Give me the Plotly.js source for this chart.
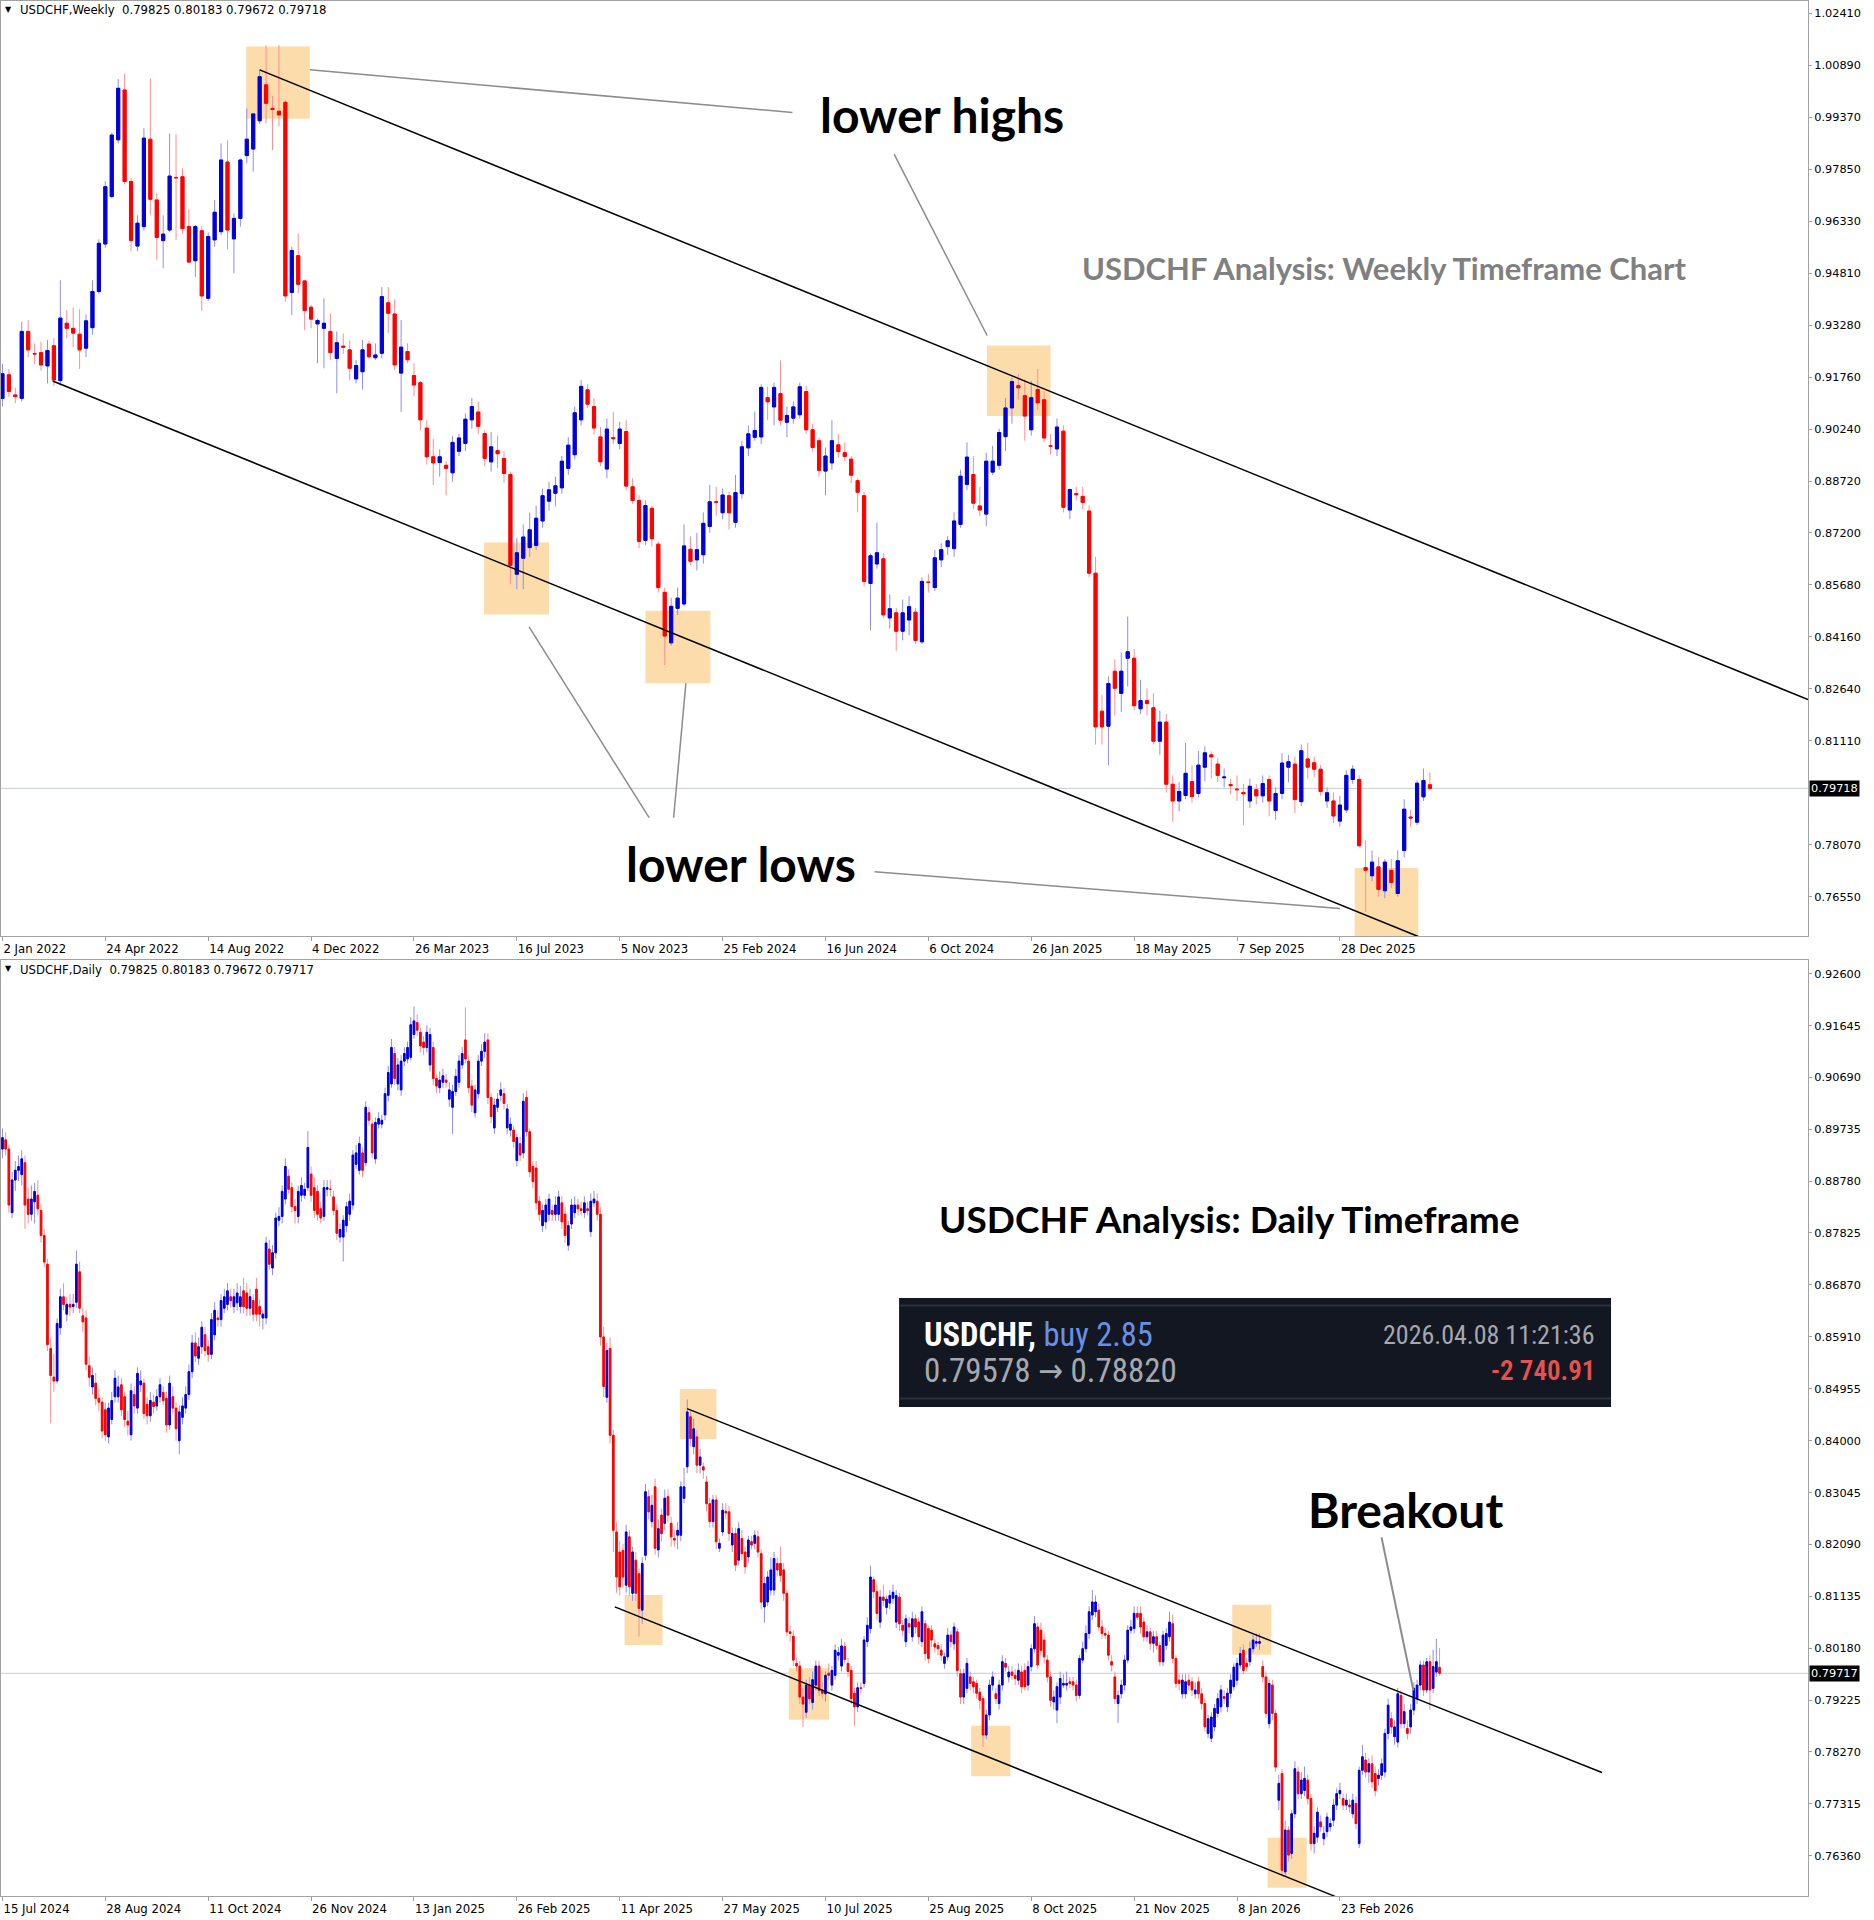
<!DOCTYPE html>
<html>
<head>
<meta charset="utf-8">
<script src="https://cdn.plot.ly/plotly-3.0.1.min.js"></script>
<style>html,body{margin:0;padding:0;background:#fff;}#chart{width:1874px;height:1920px;}</style>
</head>
<body>
<div id="chart"></div>
<script>
// ---------------- WEEKLY DATA (2 Jan 2022 ... 5 Apr 2026) ----------------
const weeklyOpen = [
.9114,.9183,.9124,.9114,.9310,.9245,.9248,.9209,.9268,.9166,
.9334,.9319,.9302,.9261,.9321,.9427,.9566,.9705,.9871,1.0017,
.9749,.9560,.9617,.9873,.9695,.9576,.9607,.9761,.9763,.9617,
.9517,.9605,.9407,.9578,.9602,.9806,.9581,.9641,.9825,.9844,
.9927,1.0032,.9963,.9955,.9981,.9424,.9532,.9458,.9381,.9332,
.9319,.9310,.9231,.9267,.9256,.9171,.9192,.9273,.9233,.9246,
.9394,.9361,.9188,.9251,.9181,.9160,.9027,.8943,.8926,.8918,
.8896,.8959,.8982,.9051,.9074,.9011,.8928,.8961,.8938,.8891,
.8599,.8646,.8677,.8683,.8755,.8813,.8836,.8852,.8909,.8949,
.9051,.9139,.9090,.9001,.8907,.8999,.8982,.9017,.8855,.8815,
.8698,.8792,.8687,.8546,.8398,.8499,.8512,.8672,.8641,.8656,
.8739,.8811,.8779,.8829,.8751,.8835,.8969,.9000,.9001,.9116,
.9089,.9128,.9044,.9056,.9066,.9134,.9022,.8990,.8901,.8925,
.8978,.8955,.8936,.8873,.8829,.8572,.8629,.8644,.8471,.8486,
.8432,.8465,.8488,.8401,.8576,.8560,.8641,.8680,.8674,.8745,
.8862,.8891,.8799,.8775,.8898,.8918,.9002,.9086,.9151,.9122,
.9022,.9140,.9110,.8975,.8966,.9018,.8787,.8835,.8827,.8784,
.8602,.8198,.8154,.8315,.8250,.8353,.8353,.8205,.8229,.8208,
.8110,.8166,.7984,.7935,.7951,.7992,.7957,.8034,.8070,.8043,
.8003,.7983,.7970,.7960,.7935,.7968,.7950,.7998,.7907,.7957,
.8034,.8043,.7933,.8058,.8047,.8028,.7935,.7935,.7876,.7909,
.7998,.7998,.7740,.7716,.7742,.7672,.7732,.7664,.7790,.7888,
.7873,.7947,.79825];
const weeklyHigh = [
.9215,.9200,.9145,.9338,.9343,.9275,.9280,.9285,.9290,.9460,
.9372,.9380,.9375,.9360,.9460,.9580,.9750,.9892,1.0049,1.0064,
.9760,.9650,.9905,1.0051,.9715,.9650,.9890,.9887,.9787,.9668,
.9622,.9619,.9600,.9695,.9861,.9870,.9656,.9817,.9963,.9948,
1.0076,1.0148,1.0000,1.0148,.9988,.9558,.9597,.9458,.9388,.9348,
.9407,.9363,.9310,.9304,.9283,.9226,.9285,.9283,.9275,.9440,
.9440,.9404,.9343,.9275,.9217,.9165,.9050,.8995,.8965,.8930,
.9003,.9010,.9070,.9115,.9105,.9020,.9015,.9005,.8960,.8900,
.8705,.8745,.8780,.8800,.8850,.8870,.8885,.8945,.9000,.9090,
.9168,.9155,.9115,.9030,.9055,.9075,.9045,.9050,.8880,.8830,
.8815,.8800,.8695,.8560,.8530,.8560,.8745,.8710,.8720,.8780,
.8860,.8855,.8850,.8840,.8890,.8990,.9035,.9075,.9155,.9148,
.9160,.9225,.9090,.9105,.9160,.9150,.9040,.9000,.8970,.9050,
.9010,.8985,.8945,.8880,.8840,.8660,.8750,.8660,.8540,.8500,
.8525,.8535,.8500,.8590,.8600,.8670,.8690,.8710,.8780,.8905,
.8985,.8945,.8855,.8955,.8975,.9025,.9115,.9175,.9185,.9170,
.9165,.9200,.9135,.9010,.9055,.9035,.8850,.8855,.8855,.8800,
.8650,.8245,.8300,.8350,.8370,.8475,.8380,.8290,.8265,.8250,
.8200,.8190,.8010,.7990,.8105,.8040,.8082,.8095,.8080,.8060,
.8030,.8000,.8010,.7985,.8000,.7985,.8010,.8010,.7975,.8075,
.8070,.8065,.8100,.8105,.8065,.8040,.7975,.7960,.7950,.8025,
.8040,.8010,.7820,.7790,.7770,.7765,.7765,.7790,.7940,.7910,
.7995,.8030,.80183];
const weeklyLow = [
.9090,.9118,.9100,.9105,.9235,.9215,.9195,.9158,.9150,.9152,
.9290,.9265,.9200,.9235,.9300,.9420,.9555,.9700,.9860,.9740,
.9545,.9545,.9605,.9650,.9520,.9495,.9600,.9578,.9597,.9510,
.9470,.9370,.9400,.9558,.9592,.9550,.9480,.9617,.9802,.9778,
.9917,.9919,.9841,.9911,.9397,.9358,.9422,.9314,.9319,.9217,
.9202,.9226,.9129,.9244,.9168,.9158,.9140,.9231,.9226,.9231,
.9305,.9197,.9074,.9217,.9120,.9020,.8920,.8860,.8885,.8830,
.8870,.8945,.8960,.9025,.9010,.8915,.8900,.8910,.8867,.8570,
.8555,.8555,.8650,.8670,.8735,.8785,.8798,.8835,.8890,.8935,
.9035,.9085,.9008,.8915,.8880,.8980,.8965,.8845,.8805,.8675,
.8685,.8680,.8545,.8333,.8390,.8480,.8505,.8625,.8610,.8630,
.8720,.8770,.8760,.8730,.8735,.8820,.8945,.8990,.8980,.9050,
.9035,.9035,.9000,.9040,.9055,.9010,.8958,.8885,.8830,.8905,
.8940,.8930,.8865,.8780,.8563,.8435,.8615,.8470,.8440,.8375,
.8405,.8420,.8395,.8395,.8545,.8550,.8620,.8655,.8650,.8735,
.8845,.8790,.8770,.8740,.8890,.8905,.8960,.9040,.9110,.8990,
.9005,.9080,.8985,.8950,.8945,.8780,.8760,.8815,.8790,.8590,
.8100,.8100,.8040,.8185,.8195,.8270,.8200,.8190,.8185,.8100,
.8070,.7960,.7875,.7905,.7940,.7930,.7945,.7993,.8000,.7990,
.7975,.7955,.7935,.7865,.7915,.7925,.7930,.7890,.7880,.7940,
.7990,.7900,.7920,.8000,.8005,.7950,.7915,.7870,.7860,.7900,
.7985,.7800,.7610,.7700,.7655,.7650,.7680,.7655,.7770,.7860,
.7865,.7935,.79672];
const weeklyClose = [
.9186,.9134,.9119,.9310,.9256,.9244,.9212,.9254,.9168,.9349,
.9319,.9305,.9256,.9341,.9427,.9568,.9734,.9885,1.0022,.9749,
.9576,.9627,.9876,.9697,.9585,.9595,.9765,.9760,.9611,.9513,
.9617,.9414,.9588,.9659,.9812,.9607,.9641,.9812,.9873,.9947,
1.0056,.9978,.9960,.9944,.9414,.9547,.9448,.9371,.9346,.9342,
.9334,.9248,.9277,.9264,.9202,.9210,.9256,.9236,.9241,.9412,
.9363,.9212,.9264,.9227,.9153,.9051,.8943,.8925,.8943,.8909,
.8985,.8998,.9053,.9090,.9032,.8938,.8972,.8952,.8894,.8625,
.8662,.8708,.8729,.8763,.8829,.8846,.8858,.8930,.8977,.9072,
.9149,.9097,.9027,.8928,.9024,.8996,.9024,.8857,.8815,.8695,
.8800,.8703,.8560,.8418,.8505,.8529,.8682,.8637,.8671,.8748,
.8811,.8810,.8831,.8779,.8838,.8972,.9010,.9020,.9146,.9104,
.9146,.9050,.9064,.9089,.9148,.9022,.8970,.8903,.8945,.8990,
.8958,.8944,.8889,.8839,.8578,.8653,.8662,.8480,.8498,.8432,
.8486,.8504,.8405,.8578,.8575,.8647,.8671,.8697,.8755,.8886,
.8942,.8807,.8787,.8930,.8930,.9014,.9086,.9163,.9145,.9062,
.9116,.9101,.8998,.8974,.9030,.8795,.8847,.8832,.8809,.8602,
.8152,.8152,.8279,.8265,.8315,.8372,.8214,.8229,.8220,.8110,
.8166,.7984,.7935,.7963,.8016,.7948,.8040,.8076,.8064,.8010,
.8005,.7980,.7968,.7956,.7978,.7950,.7986,.7935,.7957,.8046,
.8050,.7939,.8082,.8034,.8028,.7963,.7959,.7891,.7923,.8010,
.8028,.7804,.7732,.7756,.7676,.7756,.7696,.7760,.7911,.7885,
.7987,.7995,.79718];
const weeklyTickIndex = [0,16,32,48,64,80,96,112,128,144,160,176,192,208];
const weeklyTickLabels = ['2 Jan 2022','24 Apr 2022','14 Aug 2022','4 Dec 2022','26 Mar 2023','16 Jul 2023','5 Nov 2023','25 Feb 2024','16 Jun 2024','6 Oct 2024','26 Jan 2025','18 May 2025','7 Sep 2025','28 Dec 2025'];
const weeklyPriceTicks = [1.0241,1.0089,0.9937,0.9785,0.9633,0.9481,0.9328,0.9176,0.9024,0.8872,0.8720,0.8568,0.8416,0.8264,0.8111,0.7807,0.7655];
const weeklyLast = 0.79718;

// ---------------- DAILY DATA (15 Jul 2024 ... 8 Apr 2026) ----------------
const dailyOpen = [
.8937,.8954,.8937,.8820,.8880,.8898,.8890,.8912,.8845,.8817,
.8840,.8852,.8824,.8778,.8725,.8570,.8517,.8510,.8608,.8665,
.8633,.8651,.8647,.8655,.8711,.8630,.8626,.8538,.8499,.8506,
.8478,.8471,.8457,.8407,.8439,.8481,.8481,.8503,.8481,.8436,
.8411,.8485,.8460,.8503,.8506,.8467,.8446,.8471,.8464,.8481,
.8489,.8478,.8429,.8481,.8460,.8400,.8443,.8460,.8485,.8527,
.8580,.8552,.8573,.8595,.8573,.8559,.8595,.8626,.8623,.8644,
.8651,.8665,.8647,.8654,.8647,.8676,.8672,.8644,.8658,.8679,
.8647,.8626,.8626,.8753,.8718,.8746,.8806,.8813,.8845,.8887,
.8866,.8831,.8813,.8852,.8852,.8866,.8891,.8866,.8859,.8827,
.8813,.8863,.8863,.8849,.8824,.8775,.8775,.8796,.8817,.8834,
.8909,.8898,.8930,.8912,.9004,.8983,.8919,.8983,.8983,.9000,
.9036,.9057,.9113,.9057,.9046,.9099,.9103,.9106,.9148,.9170,
.9152,.9134,.9124,.9092,.9124,.9067,.9050,.9060,.9064,.9029,
.9014,.9043,.9060,.9092,.9138,.9099,.9053,.9004,.9039,.9099,
.9117,.9138,.9032,.8976,.9014,.9036,.9039,.8976,.8972,.8972,
.8916,.8947,.8930,.9032,.8969,.8905,.8902,.8841,.8796,.8803,
.8817,.8824,.8817,.8817,.8838,.8817,.8760,.8799,.8820,.8834,
.8827,.8820,.8827,.8785,.8838,.8841,.8817,.8591,.8480,.8570,
.8410,.8232,.8195,.8198,.8134,.8223,.8119,.8180,.8155,.8088,
.8189,.8297,.8251,.8315,.8199,.8263,.8248,.8297,.8248,.8220,
.8226,.8226,.8294,.8352,.8444,.8389,.8407,.8355,.8352,.8324,
.8284,.8251,.8291,.8202,.8232,.8270,.8269,.8208,.8229,.8180,
.8220,.8195,.8186,.8214,.8211,.8223,.8192,.8094,.8103,.8125,
.8125,.8174,.8174,.8162,.8119,.8048,.8040,.7990,.7985,.7928,
.7900,.7950,.7918,.7950,.7985,.7941,.7934,.7972,.7950,.7968,
.8005,.7985,.8021,.7990,.7977,.7935,.7910,.7945,.7953,.8030,
.8054,.8144,.8122,.8066,.8112,.8093,.8101,.8110,.8066,.8112,
.8060,.8030,.8063,.8039,.8072,.8066,.8030,.8063,.8054,.8051,
.8026,.8023,.8014,.7990,.8002,.8042,.8026,.8048,.7971,.7928,
.7944,.7965,.7956,.7953,.7937,.7925,.7858,.7895,.7950,.7934,
.7916,.7950,.7990,.7965,.7974,.7968,.7959,.7974,.7977,.7950,
.7984,.8017,.8057,.8051,.8033,.7996,.7965,.7919,.7904,.7928,
.7950,.7950,.7956,.7956,.7950,.7931,.7996,.8017,.8045,.8079,
.8085,.8088,.8057,.8045,.8042,.7993,.7965,.7916,.7934,.7950,
.7996,.8051,.8054,.8082,.8082,.8066,.8039,.8048,.8027,.8039,
.8023,.7993,.8023,.8039,.8063,.7999,.7959,.7934,.7934,.7959,
.7956,.7934,.7956,.7934,.7916,.7861,.7852,.7873,.7898,.7910,
.7929,.7910,.7935,.7947,.7959,.7987,.8014,.7990,.7993,.8017,
.8027,.8027,.7984,.7965,.7879,.7950,.7898,.7738,.7787,.7606,
.7683,.7640,.7713,.7790,.7750,.7756,.7775,.7741,.7658,.7670,
.7698,.7667,.7680,.7689,.7701,.7729,.7750,.7741,.7729,.7729,
.7713,.7732,.7658,.7793,.7812,.7790,.7805,.7787,.7778,.7784,
.7790,.7861,.7888,.7855,.7845,.7931,.7879,.7870,.7873,.7904,
.7925,.7950,.7987,.7941,.7993,.7944,.7974,.79825];
const dailyHigh = [
.8975,.8968,.8945,.8895,.8915,.8925,.8935,.8925,.8865,.8870,
.8875,.8880,.8835,.8790,.8735,.8590,.8560,.8625,.8680,.8690,
.8665,.8670,.8670,.8750,.8730,.8645,.8640,.8555,.8535,.8525,
.8495,.8480,.8470,.8470,.8490,.8530,.8520,.8515,.8490,.8455,
.8505,.8500,.8535,.8530,.8515,.8480,.8490,.8485,.8495,.8515,
.8500,.8490,.8520,.8500,.8470,.8465,.8480,.8500,.8540,.8595,
.8600,.8590,.8620,.8610,.8585,.8635,.8655,.8640,.8670,.8680,
.8690,.8680,.8680,.8690,.8685,.8700,.8690,.8680,.8670,.8700,
.8660,.8640,.8775,.8770,.8760,.8820,.8830,.8870,.8920,.8900,
.8875,.8845,.8870,.8885,.8875,.8970,.8905,.8885,.8870,.8840,
.8880,.8880,.8880,.8860,.8835,.8800,.8815,.8840,.8855,.8935,
.8945,.8960,.8940,.9025,.9015,.8990,.8995,.9005,.9000,.9050,
.9090,.9140,.9125,.9105,.9110,.9125,.9135,.9180,.9200,.9185,
.9160,.9145,.9165,.9160,.9135,.9075,.9080,.9085,.9075,.9060,
.9055,.9085,.9110,.9125,.9198,.9110,.9065,.9055,.9110,.9130,
.9150,.9150,.9040,.9030,.9040,.9060,.9050,.9020,.8995,.8980,
.8965,.8960,.9040,.9045,.8975,.8915,.8915,.8850,.8835,.8845,
.8855,.8835,.8850,.8860,.8850,.8830,.8805,.8845,.8850,.8845,
.8840,.8850,.8840,.8855,.8860,.8855,.8830,.8610,.8580,.8590,
.8420,.8250,.8215,.8210,.8245,.8235,.8205,.8195,.8165,.8185,
.8320,.8310,.8300,.8330,.8255,.8275,.8310,.8310,.8260,.8235,
.8250,.8325,.8350,.8476,.8455,.8440,.8420,.8385,.8360,.8335,
.8295,.8300,.8300,.8220,.8285,.8285,.8280,.8240,.8240,.8250,
.8235,.8205,.8225,.8225,.8235,.8235,.8200,.8150,.8160,.8185,
.8195,.8185,.8205,.8175,.8125,.8060,.8050,.8000,.7995,.7945,
.7960,.7965,.7975,.7995,.7995,.7955,.7975,.7990,.7985,.8025,
.8020,.8035,.8030,.8000,.7985,.7945,.7955,.7955,.8040,.8075,
.8170,.8150,.8135,.8125,.8135,.8115,.8125,.8135,.8125,.8120,
.8070,.8080,.8075,.8085,.8080,.8075,.8095,.8070,.8060,.8060,
.8035,.8030,.8025,.8010,.8055,.8050,.8065,.8055,.7980,.7980,
.8000,.7975,.7965,.7960,.7945,.7930,.7905,.7960,.7975,.7945,
.7960,.8005,.8000,.7985,.7985,.7980,.7990,.7985,.7990,.7995,
.8025,.8077,.8065,.8065,.8045,.8005,.7975,.7940,.7955,.7975,
.7970,.7975,.7965,.7965,.7960,.8005,.8030,.8060,.8095,.8125,
.8115,.8100,.8070,.8055,.8050,.8005,.7975,.7940,.7960,.8005,
.8060,.8070,.8095,.8095,.8095,.8075,.8060,.8055,.8050,.8050,
.8030,.8050,.8055,.8085,.8080,.8005,.7970,.7970,.7970,.7970,
.7965,.7955,.7965,.7945,.7925,.7895,.7900,.7915,.7935,.7950,
.7940,.7945,.7970,.7990,.8000,.8020,.8025,.8000,.8030,.8042,
.8045,.8045,.7995,.7975,.7960,.7960,.7905,.7785,.7795,.7700,
.7690,.7720,.7810,.7800,.7790,.7800,.7785,.7750,.7690,.7725,
.7710,.7690,.7715,.7705,.7740,.7760,.7770,.7750,.7750,.7740,
.7750,.7745,.7800,.7840,.7825,.7815,.7820,.7800,.7795,.7815,
.7870,.7925,.7900,.7885,.7945,.7940,.7915,.7885,.7915,.7955,
.7960,.7995,.7995,.8000,.8005,.8015,.8035,.80183];
const dailyLow = [
.8920,.8925,.8820,.8810,.8860,.8878,.8870,.8790,.8800,.8805,
.8800,.8815,.8765,.8720,.8565,.8432,.8490,.8505,.8595,.8640,
.8620,.8630,.8635,.8645,.8635,.8600,.8530,.8500,.8485,.8465,
.8455,.8405,.8400,.8395,.8430,.8470,.8470,.8445,.8425,.8410,
.8400,.8450,.8450,.8490,.8440,.8430,.8435,.8450,.8455,.8470,
.8465,.8415,.8420,.8450,.8400,.8375,.8430,.8450,.8475,.8515,
.8545,.8540,.8560,.8555,.8545,.8550,.8585,.8610,.8610,.8635,
.8640,.8645,.8635,.8640,.8635,.8635,.8630,.8630,.8620,.8620,
.8610,.8605,.8615,.8715,.8705,.8735,.8795,.8800,.8835,.8855,
.8820,.8800,.8800,.8840,.8845,.8860,.8840,.8810,.8805,.8800,
.8805,.8850,.8850,.8815,.8770,.8765,.8730,.8785,.8805,.8825,
.8900,.8890,.8885,.8905,.8980,.8920,.8910,.8975,.8975,.8990,
.9025,.9050,.9055,.9045,.9035,.9090,.9095,.9100,.9140,.9145,
.9115,.9110,.9115,.9080,.9055,.9040,.9040,.9050,.9050,.9015,
.8965,.9035,.9050,.9085,.9095,.9040,.9005,.8995,.9030,.9090,
.9105,.9020,.8985,.8965,.9005,.9025,.9010,.8965,.8960,.8940,
.8905,.8915,.8920,.8960,.8885,.8865,.8825,.8805,.8785,.8790,
.8805,.8805,.8805,.8805,.8790,.8765,.8750,.8790,.8810,.8815,
.8815,.8810,.8815,.8775,.8830,.8805,.8575,.8480,.8470,.8395,
.8195,.8120,.8115,.8130,.8120,.8115,.8105,.8105,.8039,.8063,
.8180,.8255,.8240,.8190,.8185,.8215,.8235,.8250,.8205,.8205,
.8200,.8215,.8285,.8340,.8390,.8375,.8340,.8340,.8330,.8270,
.8240,.8240,.8200,.8195,.8225,.8255,.8215,.8195,.8160,.8170,
.8180,.8155,.8175,.8200,.8200,.8185,.8090,.8065,.8095,.8115,
.8115,.8150,.8140,.8105,.8040,.8030,.7985,.7975,.7915,.7873,
.7890,.7915,.7905,.7940,.7930,.7925,.7920,.7960,.7940,.7960,
.7995,.7975,.7990,.7965,.7915,.7875,.7900,.7935,.7945,.8020,
.8045,.8110,.8070,.8055,.8095,.8080,.8090,.8100,.8055,.8050,
.8040,.8020,.8045,.8030,.8045,.8025,.8020,.7995,.7990,.8020,
.8010,.8005,.7995,.7980,.7995,.8020,.8015,.7965,.7915,.7915,
.7935,.7940,.7935,.7925,.7905,.7836,.7850,.7885,.7940,.7915,
.7905,.7940,.7975,.7955,.7960,.7950,.7950,.7935,.7940,.7940,
.7975,.8010,.7980,.8005,.7990,.7955,.7910,.7905,.7880,.7915,
.7945,.7940,.7945,.7940,.7920,.7925,.7990,.8010,.8035,.8070,
.8075,.8050,.8035,.8035,.7995,.7975,.7915,.7880,.7925,.7940,
.7990,.8045,.8045,.8070,.8045,.8030,.8030,.8015,.8010,.8015,
.7985,.7985,.8015,.8030,.7990,.7945,.7940,.7925,.7925,.7940,
.7930,.7925,.7925,.7905,.7865,.7852,.7845,.7865,.7890,.7900,
.7915,.7900,.7925,.7940,.7950,.7980,.7970,.7975,.7985,.8010,
.8020,.8015,.7955,.7890,.7870,.7885,.7790,.7720,.7600,.7598,
.7625,.7630,.7705,.7740,.7740,.7745,.7730,.7645,.7640,.7660,
.7680,.7655,.7670,.7680,.7690,.7720,.7740,.7720,.7720,.7715,
.7705,.7685,.7650,.7785,.7780,.7770,.7760,.7745,.7765,.7775,
.7780,.7850,.7860,.7840,.7835,.7870,.7870,.7850,.7860,.7895,
.7915,.7940,.7930,.7935,.7904,.7935,.7965,.79672];
const dailyClose = [
.8958,.8937,.8834,.8880,.8898,.8905,.8919,.8834,.8817,.8845,
.8859,.8827,.8778,.8729,.8577,.8520,.8510,.8616,.8665,.8651,
.8651,.8646,.8651,.8725,.8644,.8619,.8541,.8517,.8520,.8478,
.8471,.8418,.8411,.8460,.8474,.8515,.8499,.8457,.8439,.8429,
.8492,.8464,.8524,.8510,.8450,.8446,.8474,.8463,.8481,.8503,
.8474,.8429,.8506,.8460,.8422,.8453,.8464,.8485,.8527,.8580,
.8556,.8573,.8609,.8566,.8559,.8623,.8640,.8623,.8658,.8665,
.8676,.8658,.8665,.8672,.8665,.8647,.8644,.8665,.8633,.8633,
.8633,.8633,.8764,.8725,.8746,.8810,.8813,.8859,.8905,.8863,
.8831,.8824,.8859,.8870,.8863,.8940,.8852,.8824,.8817,.8810,
.8866,.8866,.8863,.8824,.8782,.8789,.8806,.8831,.8841,.8926,
.8930,.8947,.8898,.9014,.8990,.8930,.8986,.8993,.8990,.9039,
.9078,.9124,.9067,.9092,.9099,.9113,.9124,.9166,.9173,.9156,
.9127,.9124,.9152,.9148,.9067,.9053,.9064,.9072,.9060,.9046,
.9043,.9071,.9099,.9113,.9103,.9050,.9018,.9046,.9099,.9117,
.9134,.9032,.8997,.9018,.9029,.9046,.9021,.9011,.8983,.8951,
.8958,.8926,.9025,.8969,.8895,.8877,.8838,.8817,.8824,.8834,
.8845,.8817,.8834,.8849,.8803,.8778,.8796,.8834,.8834,.8827,
.8824,.8838,.8824,.8841,.8845,.8817,.8591,.8500,.8566,.8410,
.8235,.8149,.8131,.8149,.8232,.8131,.8195,.8119,.8091,.8174,
.8306,.8269,.8281,.8202,.8238,.8229,.8294,.8263,.8223,.8217,
.8235,.8315,.8315,.8453,.8404,.8422,.8355,.8370,.8346,.8284,
.8251,.8291,.8214,.8211,.8272,.8267,.8229,.8229,.8171,.8238,
.8192,.8168,.8217,.8208,.8226,.8195,.8103,.8137,.8149,.8162,
.8183,.8162,.8152,.8119,.8048,.8045,.7996,.7985,.7928,.7915,
.7950,.7925,.7960,.7985,.7940,.7935,.7968,.7968,.7977,.8014,
.8010,.8022,.7997,.7975,.7925,.7910,.7945,.7944,.8033,.8060,
.8149,.8122,.8082,.8112,.8106,.8108,.8115,.8121,.8115,.8063,
.8051,.8072,.8057,.8072,.8057,.8039,.8085,.8008,.7999,.8033,
.8020,.8017,.8005,.8002,.8042,.8030,.8057,.7977,.7928,.7971,
.7990,.7953,.7947,.7935,.7922,.7858,.7895,.7950,.7965,.7925,
.7950,.7993,.7983,.7974,.7968,.7962,.7977,.7947,.7947,.7984,
.8017,.8063,.7987,.8014,.8002,.7965,.7922,.7928,.7947,.7962,
.7953,.7953,.7953,.7950,.7931,.7999,.8017,.8045,.8085,.8103,
.8103,.8057,.8045,.8042,.8005,.7987,.7925,.7931,.7950,.7996,
.8051,.8057,.8082,.8075,.8057,.8039,.8048,.8027,.8039,.8023,
.7993,.8042,.8045,.8066,.7999,.7953,.7953,.7959,.7956,.7950,
.7941,.7941,.7934,.7916,.7873,.7888,.7891,.7907,.7925,.7941,
.7925,.7935,.7959,.7983,.7990,.8008,.7977,.7984,.8017,.8033,
.8030,.8030,.7965,.7898,.7953,.7898,.7799,.7769,.7609,.7683,
.7637,.7713,.7796,.7750,.7775,.7778,.7741,.7658,.7677,.7716,
.7689,.7677,.7707,.7695,.7729,.7750,.7756,.7729,.7738,.7726,
.7738,.7695,.7793,.7818,.7790,.7805,.7772,.7756,.7784,.7805,
.7861,.7913,.7873,.7873,.7934,.7879,.7901,.7861,.7904,.7944,
.7950,.7987,.7941,.7993,.7941,.7984,.7993,.79717];
const dailyTickIndex = [0,32,64,96,128,160,192,224,256,288,320,352,384,416];
const dailyTickLabels = ['15 Jul 2024','28 Aug 2024','11 Oct 2024','26 Nov 2024','13 Jan 2025','26 Feb 2025','11 Apr 2025','27 May 2025','10 Jul 2025','25 Aug 2025','8 Oct 2025','21 Nov 2025','8 Jan 2026','23 Feb 2026'];
const dailyPriceTicks = [0.92600,0.91645,0.90690,0.89735,0.88780,0.87825,0.86870,0.85910,0.84955,0.84000,0.83045,0.82090,0.81135,0.80180,0.79225,0.78270,0.77315,0.76360];
const dailyLast = 0.79717;

// ---------------- BUILD ----------------
const idx = a => a.map((_, k) => k);
const bodyTop = (o, c) => o.map((v, k) => Math.max(v, c[k]));
const bodyBot = (o, c) => o.map((v, k) => Math.min(v, c[k]));

function candles(o, h, l, c, xa, ya) {
  const x = idx(o);
  const common = {type: 'candlestick', x: x, xaxis: xa, yaxis: ya, whiskerwidth: 0, hoverinfo: 'skip', showlegend: false};
  const wick = Object.assign({}, common, {open: o, high: h, low: l, close: c,
    increasing: {line: {color: '#8d8df4', width: 1}, fillcolor: '#8d8df4'},
    decreasing: {line: {color: '#ff8e8e', width: 1}, fillcolor: '#ff8e8e'}});
  const body = Object.assign({}, common, {open: o, high: bodyTop(o, c), low: bodyBot(o, c), close: c,
    increasing: {line: {color: '#0000d8', width: 1}, fillcolor: '#0000d8'},
    decreasing: {line: {color: '#ff0000', width: 1}, fillcolor: '#ff0000'}});
  return [wick, body];
}

const traces = [].concat(
  candles(weeklyOpen, weeklyHigh, weeklyLow, weeklyClose, 'x', 'y'),
  candles(dailyOpen, dailyHigh, dailyLow, dailyClose, 'x2', 'y2')
);

const FRAME = '#a2a2a2';
const xFont = {family: '"DejaVu Sans Condensed", "DejaVu Sans", sans-serif', size: 13, color: '#000'};
const yFont = {family: '"DejaVu Sans", Verdana, sans-serif', size: 11.3, color: '#000'};
const fmt5 = v => v.toFixed(5);

function xAxis(anchor, range, tv, tt) {
  return {anchor: anchor, domain: [0, 1], range: range, showgrid: false, zeroline: false,
    showline: true, mirror: true, linecolor: FRAME, linewidth: 1,
    ticks: 'outside', ticklen: 4, tickcolor: FRAME, tickwidth: 1,
    tickvals: tv, ticktext: tt, tickfont: xFont, ticklabelposition: 'outside right',
    rangeslider: {visible: false}, fixedrange: true, automargin: false};
}
function yAxis(anchor, domain, range, tv) {
  return {anchor: anchor, domain: domain, range: range, side: 'right', showgrid: false, zeroline: false,
    showline: true, mirror: true, linecolor: FRAME, linewidth: 1,
    ticks: 'outside', ticklen: 3, tickcolor: FRAME, tickwidth: 1,
    tickvals: tv, ticktext: tv.map(fmt5), tickfont: yFont, fixedrange: true, automargin: false};
}

const BOX = '#fddcab';
function rect(xr, yr, x0, x1, y0, y1) {
  return {type: 'rect', xref: xr, yref: yr, x0: x0, x1: x1, y0: y0, y1: y1, fillcolor: BOX, line: {width: 0}, layer: 'below'};
}
function seg(xr, yr, x0, y0, x1, y1, color, w) {
  return {type: 'line', xref: xr, yref: yr, x0: x0, y0: y0, x1: x1, y1: y1, line: {color: color, width: w}, layer: 'above'};
}

const shapes = [
  // weekly highlight boxes
  rect('x', 'y', 37.9, 47.8, 0.9933, 1.0144),
  rect('x', 'y', 153.1, 163.0, 0.9062, 0.9269),
  rect('x', 'y', 74.9, 85.0, 0.8481, 0.8692),
  rect('x', 'y', 100.0, 110.1, 0.8280, 0.8492),
  rect('x', 'y', 210.3, 220.2, 0.7500, 0.7739),
  // daily highlight boxes
  rect('x2', 'y2', 210.7, 222.1, 0.8403, 0.8495),
  rect('x2', 'y2', 193.5, 205.3, 0.8024, 0.8116),
  rect('x2', 'y2', 244.6, 257.1, 0.7886, 0.7981),
  rect('x2', 'y2', 301.3, 313.5, 0.7782, 0.7875),
  rect('x2', 'y2', 382.5, 394.7, 0.8006, 0.8098),
  rect('x2', 'y2', 393.5, 405.7, 0.7577, 0.7669),
  // last price lines
  {type: 'line', xref: 'x domain', yref: 'y', x0: 0, x1: 1, y0: weeklyLast, y1: weeklyLast, line: {color: '#c7cdd6', width: 1}, layer: 'below'},
  {type: 'line', xref: 'x2 domain', yref: 'y2', x0: 0, x1: 1, y0: dailyLast, y1: dailyLast, line: {color: '#c7cdd6', width: 1}, layer: 'below'},
  // weekly channel
  seg('x', 'y', 40.0, 1.0076, 280.8, 0.8232, '#000', 1.5),
  seg('x', 'y', 7.81, 0.9165, 220.19, 0.7538, '#000', 1.5),
  // daily channel
  seg('x2', 'y2', 212.95, 0.8459, 497.5, 0.7789, '#000', 1.5),
  seg('x2', 'y2', 190.48, 0.8094, 414.48, 0.7561, '#000', 1.5),
  // pointer lines
  seg('x', 'y', 47.81, 1.0076, 122.86, 0.9951, '#8c8c8c', 1.5),
  seg('x', 'y', 138.67, 0.9829, 153.14, 0.9298, '#8c8c8c', 1.5),
  seg('x', 'y', 81.9, 0.8445, 100.57, 0.7886, '#8c8c8c', 1.5),
  seg('x', 'y', 106.29, 0.8280, 104.38, 0.7886, '#8c8c8c', 1.5),
  seg('x', 'y', 135.62, 0.7728, 208.0, 0.7620, '#8c8c8c', 1.5),
  seg('x2', 'y2', 428.95, 0.8222, 438.86, 0.7940, '#8c8c8c', 2),
  // trade info panel
  {type: 'rect', xref: 'paper', yref: 'paper', x0: 0.4970, x1: 0.8910, y0: 0.25791, y1: 0.31540, fillcolor: '#131722', line: {width: 0}, layer: 'above'},
  {type: 'line', xref: 'paper', yref: 'paper', x0: 0.4970, x1: 0.8910, y0: 0.31144, y1: 0.31144, line: {color: '#2c303b', width: 2}, layer: 'above'},
  {type: 'line', xref: 'paper', yref: 'paper', x0: 0.4970, x1: 0.8910, y0: 0.26239, y1: 0.26239, line: {color: '#2c303b', width: 2}, layer: 'above'}
];

const bigFont = (size, color) => ({family: 'Lato, "Open Sans", sans-serif', size: size, color: color, weight: 700});
const narrow = '"Roboto Condensed", "Liberation Sans Narrow", "Arial Narrow", "DejaVu Sans Condensed", sans-serif';
function note(x, y, text, font, xanchor) {
  return {xref: 'paper', yref: 'paper', x: x, y: y, text: text, showarrow: false, font: font,
    xanchor: xanchor || 'center', yanchor: 'middle'};
}
function priceTag(yref, v) {
  return {xref: 'paper', yref: yref, x: 1, y: v, xanchor: 'left', yanchor: 'middle', xshift: 1,
    text: fmt5(v), showarrow: false, bgcolor: '#000000', borderpad: 1,
    font: {family: '"DejaVu Sans", Verdana, sans-serif', size: 11.3, color: '#ffffff'}};
}

const annotations = [
  note(0.0040, 0.99480, '▼', {family: 'DejaVu Sans', size: 8, color: '#000'}),
  note(0.0094, 0.99473, 'USDCHF,Weekly&nbsp; 0.79825 0.80183 0.79672 0.79718', xFont, 'left'),
  note(0.0040, 0.48905, '▼', {family: 'DejaVu Sans', size: 8, color: '#000'}),
  note(0.0094, 0.48892, 'USDCHF,Daily&nbsp; 0.79825 0.80183 0.79672 0.79717', xFont, 'left'),
  note(0.5208, 0.93987, 'lower highs', bigFont(48, '#000')),
  note(0.4095, 0.54483, 'lower lows', bigFont(48, '#000')),
  note(0.7654, 0.85865, 'USDCHF Analysis: Weekly Timeframe Chart', bigFont(31, '#808080')),
  note(0.6801, 0.35707, 'USDCHF Analysis: Daily Timeframe', bigFont(37, '#000')),
  note(0.7770, 0.20411, 'Breakout', bigFont(48, '#000')),
  note(0.5096, 0.29589, '<b>USDCHF,</b> <span style="color:#6a8fe6">buy 2.85</span>', {family: narrow, size: 32.5, color: '#ffffff'}, 'left'),
  note(0.5096, 0.27716, '0.79578 → 0.78820', {family: narrow, size: 33, color: '#a5a8af'}, 'left'),
  note(0.8830, 0.29589, '2026.04.08 11:21:36', {family: narrow, size: 26, color: '#a5a8af'}, 'right'),
  note(0.8830, 0.27716, '-2 740.91', {family: narrow, size: 27, color: '#e5524f', weight: 600}, 'right'),
  priceTag('y', weeklyLast),
  priceTag('y2', dailyLast)
];

const layout = {
  width: 1874, height: 1920,
  margin: {l: 1, r: 66, t: 0, b: 24, pad: 0},
  paper_bgcolor: '#ffffff', plot_bgcolor: '#ffffff',
  showlegend: false, boxgap: 0.3, dragmode: false, hovermode: false,
  xaxis: xAxis('y', [-0.2255, 280.8], weeklyTickIndex, weeklyTickLabels),
  yaxis: yAxis('x', [0.50633, 0.99947], [0.75396, 1.02776], weeklyPriceTicks),
  xaxis2: xAxis('y2', [-0.451, 561.6], dailyTickIndex, dailyTickLabels),
  yaxis2: yAxis('x2', [0, 0.49367], [0.75616, 0.92852], dailyPriceTicks),
  shapes: shapes,
  annotations: annotations
};

Plotly.newPlot('chart', traces, layout, {staticPlot: true, displayModeBar: false});
</script>
</body>
</html>
